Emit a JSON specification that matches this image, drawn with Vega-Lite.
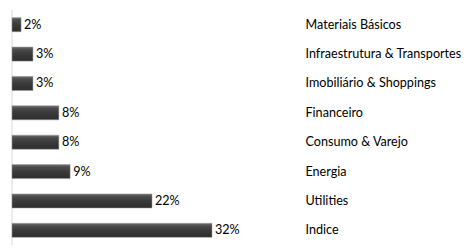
{
  "$schema": "https://vega.github.io/schema/vega-lite/v6.json",
  "autosize": "none",
  "width": 293,
  "height": 235,
  "padding": {"left": 12, "top": 10, "right": 163, "bottom": 5},
  "background": "white",
  "config": {"view": {"stroke": null}, "font": "Lato"},
  "data": {"values": [
    {"setor": "Materiais Básicos", "valor": 1.45, "rotulo": "2%"},
    {"setor": "Infraestrutura & Transportes", "valor": 3.35, "rotulo": "3%"},
    {"setor": "Imobiliário & Shoppings", "valor": 3.35, "rotulo": "3%"},
    {"setor": "Financeiro", "valor": 7.5, "rotulo": "8%"},
    {"setor": "Consumo & Varejo", "valor": 7.5, "rotulo": "8%"},
    {"setor": "Energia", "valor": 9.3, "rotulo": "9%"},
    {"setor": "Utilities", "valor": 22.4, "rotulo": "22%"},
    {"setor": "Indice", "valor": 32.0, "rotulo": "32%"}
  ]},
  "encoding": {
    "y": {"field": "setor", "type": "nominal", "sort": null,
      "scale": {"paddingInner": 0.52, "paddingOuter": 0.26},
      "axis": {"orient": "right", "title": null, "domain": false, "ticks": false,
        "labelPadding": 0, "labelFontSize": 12.6, "labelColor": "#000", "labelAlign": "left", "labelFont": "Lato"}},
    "x": {"field": "valor", "type": "quantitative",
      "scale": {"domain": [0, 46.88], "nice": false, "zero": true},
      "axis": null}
  },
  "layer": [
    {"mark": {"type": "rule", "color": "#d9d9d9", "strokeWidth": 1},
     "data": {"values": [{"x0": 0}]},
     "encoding": {"x": {"field": "x0", "type": "quantitative"}, "y": null}},
    {"mark": {"type": "bar", "stroke": "#9a9a9a", "strokeWidth": 0.5,
      "color": {"gradient": "linear", "x1": 0, "y1": 0, "x2": 0, "y2": 1,
        "stops": [{"offset": 0, "color": "#6e6e6e"}, {"offset": 0.2, "color": "#4a4a4a"}, {"offset": 0.5, "color": "#3a3a3a"}, {"offset": 1, "color": "#2e2e2e"}]}}},
    {"mark": {"type": "text", "align": "left", "dx": 3, "fontSize": 12.6, "color": "#000", "font": "Lato"},
     "encoding": {"text": {"field": "rotulo"}}}
  ]
}
